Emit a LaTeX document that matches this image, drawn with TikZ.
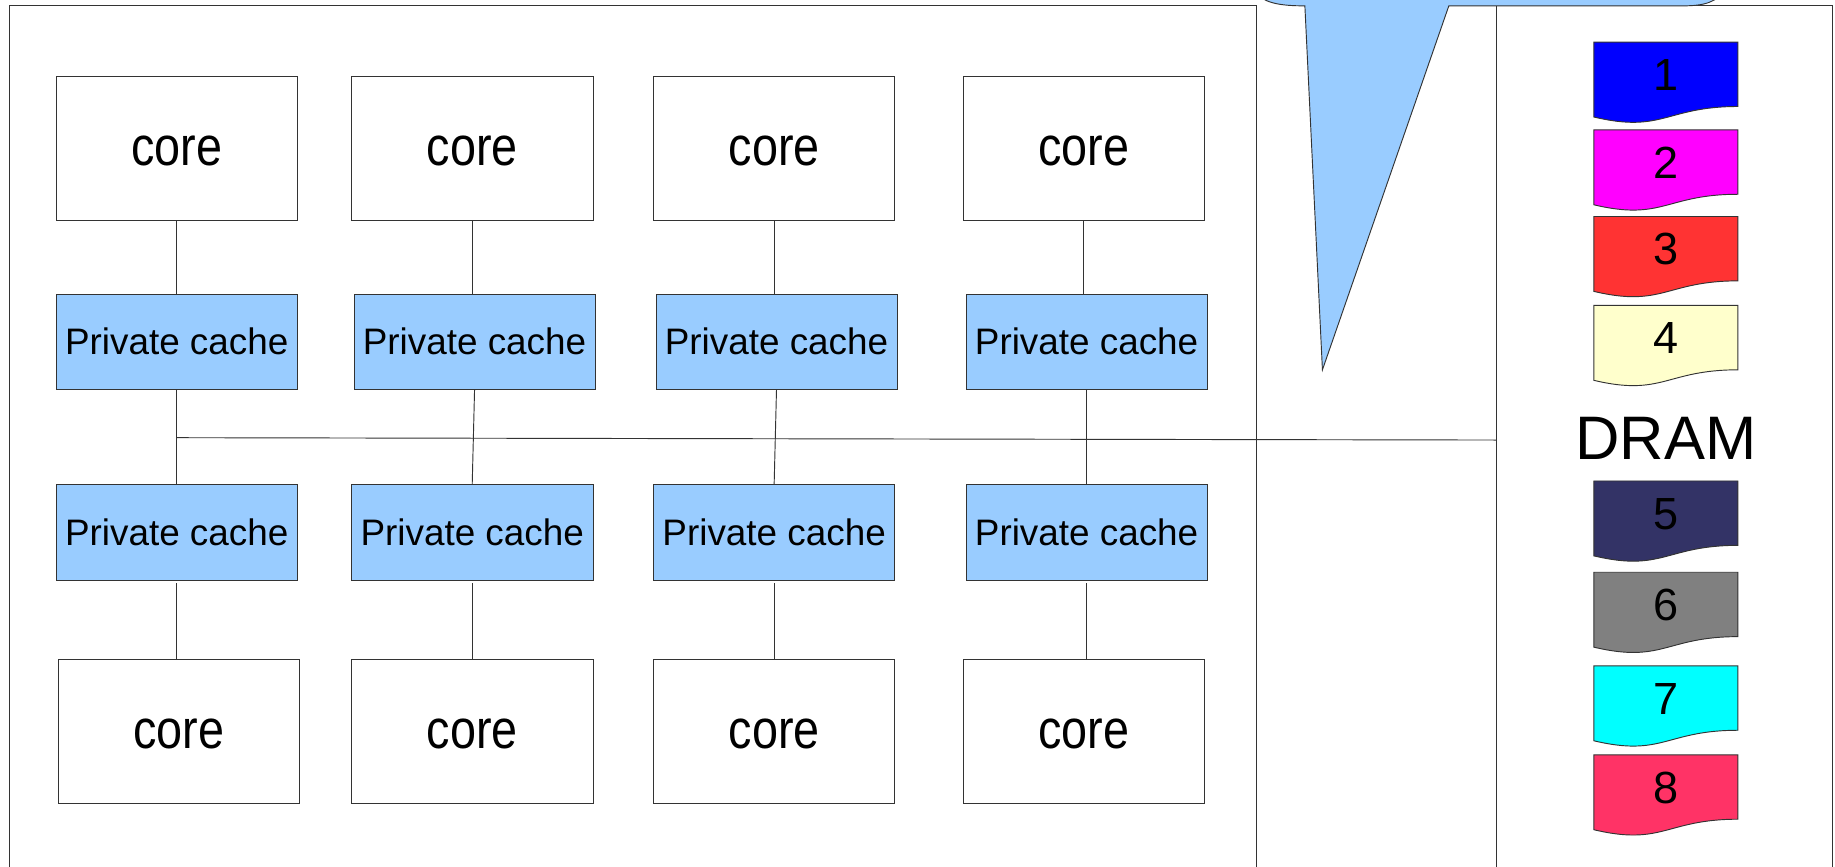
\documentclass[tikz,border=0pt]{standalone}
\usepackage{fontspec}
\setmainfont{Liberation Sans}
\newfontfamily\corefont[FakeStretch=0.85]{Liberation Sans}
\definecolor{cachefill}{HTML}{99CCFF}
\definecolor{d1}{HTML}{0000FF}
\definecolor{d2}{HTML}{FF00FF}
\definecolor{d3}{HTML}{FF3333}
\definecolor{d4}{HTML}{FFFFCC}
\definecolor{d5}{HTML}{333366}
\definecolor{d6}{HTML}{808080}
\definecolor{d7}{HTML}{00FFFF}
\definecolor{d8}{HTML}{FF3366}
\definecolor{edge}{HTML}{333333}
\tikzset{
  corebox/.style={draw=edge, fill=white, minimum width=206pt, minimum height=123pt, inner sep=0pt, text height=29.4pt, text depth=0pt, font=\corefont\fontsize{47}{56}\selectfont},
  cachebox/.style={draw=edge, fill=cachefill, minimum width=206pt, minimum height=82pt, inner sep=0pt, font=\fontsize{31.5}{38}\selectfont},
  numtext/.style={inner sep=0pt, font=\fontsize{38.5}{46}\selectfont},
  dramtext/.style={inner sep=0pt, font=\fontsize{52.5}{64}\selectfont},
  wire/.style={draw=edge, line width=0.8pt},
  frame/.style={draw=edge, line width=0.8pt},
}
\newcommand\dramdoc[4]{%
  \filldraw[fill=#3, draw=edge, line width=0.8pt] (1362,#2) -- (1485,#2) -- (1485,#2+55) .. controls (1423.5,#2+55) and (1421,#2+78) .. (1362,#2+64) -- cycle;
  \node[numtext] (#1) at (1423.5,#2+28) {#4};
}
\begin{document}
\begin{tikzpicture}[x=1pt,y=-1pt]
\useasboundingbox (0,0) rectangle (1568,740);
\clip (0,0) rectangle (1568,740);
\fill[white] (0,0) rectangle (1568,740);
% frames
\draw[frame] (8,5) rectangle (1074,760);
\draw[frame] (1279,5) rectangle (1566,760);
% callout
\filldraw[fill=cachefill, draw=edge, line width=0.8pt] (1072,-10) .. controls (1076,3) and (1095,5) .. (1115,5) -- (1130,316) -- (1238,5) -- (1438,5) .. controls (1456,5) and (1468,2) .. (1474,-10) -- cycle;
% bus
\coordinate (busL) at (151,374);
\coordinate (busR) at (1279,376);
\draw[wire] (busL) -- (busR);
% nodes
\node[corebox] (tc1) at (151,126.5) {core};
\node[corebox] (tc2) at (403.5,126.5) {core};
\node[corebox] (tc3) at (661.5,126.5) {core};
\node[corebox] (tc4) at (926,126.5) {core};
\node[cachebox] (pa1) at (151,292) {Private cache};
\node[cachebox] (pa2) at (405.5,292) {Private cache};
\node[cachebox] (pa3) at (663.5,292) {Private cache};
\node[cachebox] (pa4) at (928.5,292) {Private cache};
\node[cachebox] (pb1) at (151,455) {Private cache};
\node[cachebox] (pb2) at (403.5,455) {Private cache};
\node[cachebox] (pb3) at (661.5,455) {Private cache};
\node[cachebox] (pb4) at (928.5,455) {Private cache};
\node[corebox] (bc1) at (153,624.5) {core};
\node[corebox] (bc2) at (403.5,624.5) {core};
\node[corebox] (bc3) at (661.5,624.5) {core};
\node[corebox] (bc4) at (926,624.5) {core};
% connectors
\foreach \i in {1,2,3,4}{
  \draw[wire] (tc\i.south) -- (tc\i.south |- pa\i.north);
  \draw[wire] (pa\i.south) -- (pb\i.north);
  \draw[wire] ([yshift=-2pt]pb\i.south) -- (pb\i.south |- bc\i.north);
}
% DRAM
\dramdoc{n1}{36}{d1}{1}
\dramdoc{n2}{111}{d2}{2}
\dramdoc{n3}{185}{d3}{3}
\dramdoc{n4}{261}{d4}{4}
\node[dramtext] (dram) at (1423.5,374.5) {DRAM};
\dramdoc{n5}{411}{d5}{5}
\dramdoc{n6}{489}{d6}{6}
\dramdoc{n7}{569}{d7}{7}
\dramdoc{n8}{645}{d8}{8}
\end{tikzpicture}
\end{document}
